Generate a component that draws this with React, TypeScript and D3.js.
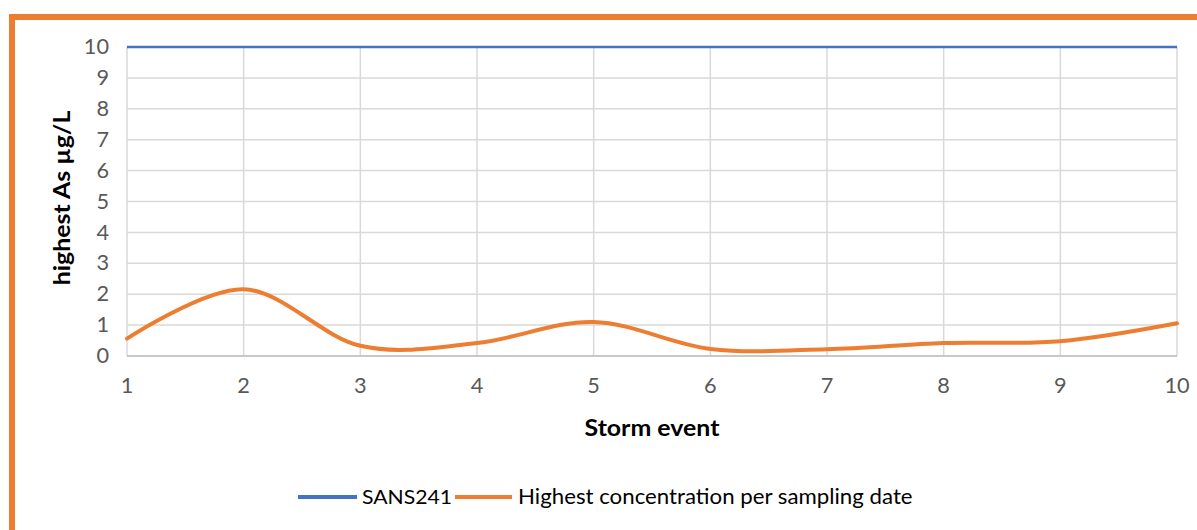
import React from "react";
import * as d3 from "d3";

const events = [1, 2, 3, 4, 5, 6, 7, 8, 9, 10];
const highest = [0.56, 2.16, 0.33, 0.42, 1.1, 0.23, 0.22, 0.42, 0.48, 1.06];
const sans241 = [10, 10, 10, 10, 10, 10, 10, 10, 10, 10];
const yTicks = [0, 1, 2, 3, 4, 5, 6, 7, 8, 9, 10];

const W = 1197, H = 530;
const L = 127, R = 1177, T = 47, B = 356;
const SX = 1.06;

function T2(props: any) {
  const { x, y, rotate, children, ...rest } = props;
  const tr = `translate(${x},${y})` + (rotate ? ` rotate(${rotate})` : "") + ` scale(${SX},1)`;
  return (
    <g transform={tr}>
      <text x={0} y={0} dy="0.35em" {...rest}>{children}</text>
    </g>
  );
}

export default function App() {
  const x = d3.scaleLinear().domain([1, 10]).range([L, R]);
  const y = d3.scaleLinear().domain([0, 10]).range([B, T]);
  const smooth = d3.line<number>().x((_, i) => x(events[i])).y((d) => y(d)).curve(d3.curveCatmullRom.alpha(0));
  const straight = d3.line<number>().x((_, i) => x(events[i])).y((d) => y(d));
  const font = "Lato, sans-serif";
  return (
    <svg width={W} height={H} style={{ position: "absolute", left: 0, top: 0 }} fontFamily={font}>
      <rect x={0} y={0} width={W} height={H} fill="#fff" />
      <rect x={12} y={17} width={W + 20} height={H + 20} fill="none" stroke="#ED7D31" strokeWidth={6} />
      {yTicks.map((t) => (
        <line key={"h" + t} x1={L} x2={R} y1={y(t)} y2={y(t)} stroke="#d9d9d9" strokeWidth={1.5} />
      ))}
      {events.map((e) => (
        <line key={"v" + e} x1={x(e)} x2={x(e)} y1={T} y2={B} stroke="#d9d9d9" strokeWidth={1.5} />
      ))}
      <line x1={L} x2={R} y1={B} y2={B} stroke="#bfbfbf" strokeWidth={1.5} />
      {yTicks.map((t) => (
        <T2 key={"yt" + t} x={109} y={y(t)} textAnchor="end" fontSize={20.5} fill="#595959">{t}</T2>
      ))}
      {events.map((e) => (
        <T2 key={"xt" + e} x={x(e)} y={386} textAnchor="middle" fontSize={20.5} fill="#595959">{e}</T2>
      ))}
      <T2 x={652} y={428} textAnchor="middle" fontSize={23.5} fontWeight="bold" fill="#000">Storm event</T2>
      <g transform={`translate(62,198) rotate(-90) scale(${SX},1)`}>
        <text x={0} y={0} dy="0.35em" textAnchor="middle" fontSize={23.5} fontWeight="bold" fill="#000">highest As µg/L</text>
      </g>
      <path d={straight(sans241) || ""} fill="none" stroke="#4472C4" strokeWidth={2.5} />
      <path d={smooth(highest) || ""} fill="none" stroke="#ED7D31" strokeWidth={4} strokeLinecap="round" />
      <line x1={298} x2={357} y1={497} y2={497} stroke="#4472C4" strokeWidth={4} />
      <T2 x={362} y={497} fontSize={20} fill="#000">SANS241</T2>
      <line x1={455} x2={512} y1={497} y2={497} stroke="#ED7D31" strokeWidth={4} />
      <T2 x={518} y={497} fontSize={21} fill="#000">Highest concentration per sampling date</T2>
    </svg>
  );
}
